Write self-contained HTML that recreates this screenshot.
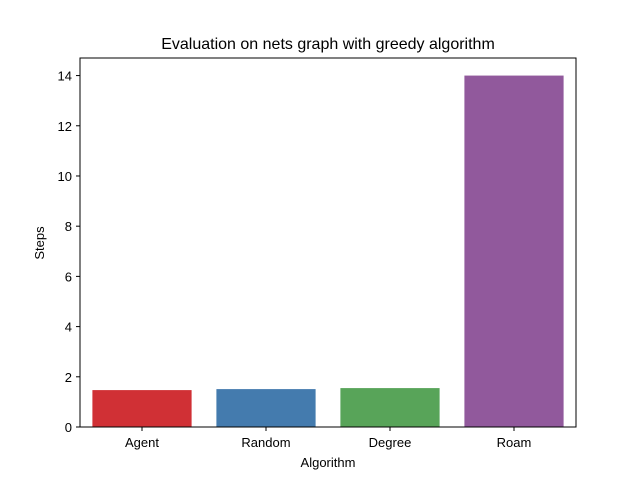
<!DOCTYPE html>
<html><head><meta charset="utf-8"><style>body{margin:0;background:#fff}svg{display:block;font-family:"Liberation Sans","DejaVu Sans",sans-serif}</style></head>
<body>
<svg id="chart" width="640" height="480">
<rect width="640" height="480" fill="#fff"/>
<text x="328" y="49" text-anchor="middle" font-size="16">Evaluation on nets graph with greedy algorithm</text>
<g id="bars"></g><g id="axes"></g>
<text x="328" y="467" text-anchor="middle" font-size="13">Algorithm</text>
<text transform="translate(44,243) rotate(-90)" text-anchor="middle" font-size="13">Steps</text>
</svg>
<script>
const categories=["Agent","Random","Degree","Roam"];
const values=[1.47,1.51,1.55,14];
const colors=["#d03035","#447bae","#58a459","#91599c"];
const yTicks=[0,2,4,6,8,10,12,14];
const L=80,R=576,T=58,B=427,yMax=14.7;
const ns="http://www.w3.org/2000/svg";
const y=v=>B-(v/yMax)*(B-T);
const band=(R-L)/categories.length;
const x=i=>L+band*(i+0.5);
const bars=document.getElementById('bars'),axes=document.getElementById('axes');
function mk(t,a,p){const e=document.createElementNS(ns,t);for(const k in a)e.setAttribute(k,a[k]);p.appendChild(e);return e;}
values.forEach((v,i)=>{
 const r=mk('rect',{x:x(i)-band*0.4,y:y(v),width:band*0.8,height:B-y(v),fill:colors[i]},bars);
 
 
 mk('line',{x1:x(i),x2:x(i),y1:B,y2:B+4,stroke:'#000'},axes);
 const t=mk('text',{x:x(i),y:B+20,'text-anchor':'middle','font-size':13},axes);t.textContent=categories[i];
 
 
});
yTicks.forEach(v=>{
 mk('line',{x1:L-4,x2:L,y1:y(v),y2:y(v),stroke:'#000'},axes);
 const t=mk('text',{x:L-8,y:y(v)+5,'text-anchor':'end','font-size':13},axes);t.textContent=v;
 
 
});
const f=mk('rect',{x:L,y:T,width:R-L,height:B-T,fill:'none',stroke:'#000','stroke-width':1},axes);


</script>
</body></html>
